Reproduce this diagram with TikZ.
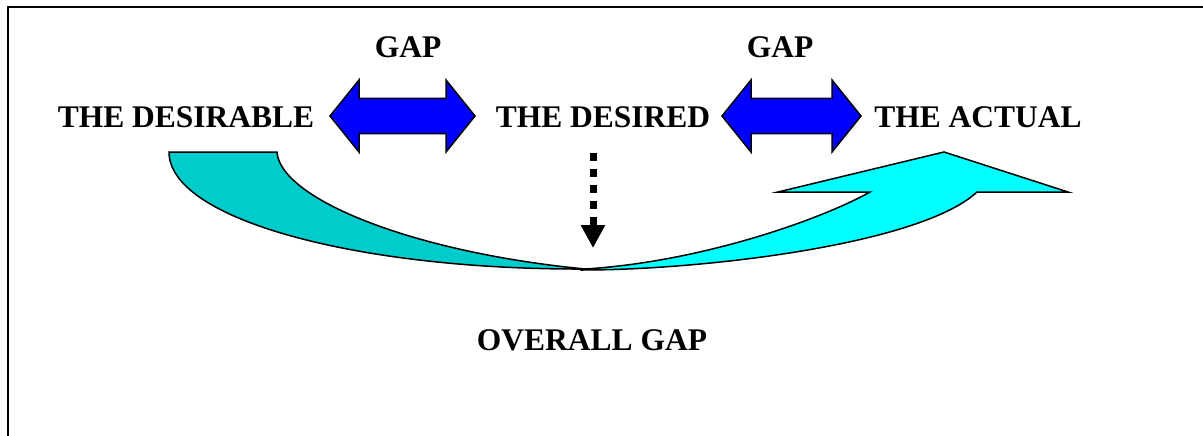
\documentclass[tikz,border=0pt]{standalone}
\usepackage{fontspec}
\setmainfont{Liberation Serif}
\usetikzlibrary{arrows.meta}
\definecolor{tealA}{RGB}{0,204,204}
\definecolor{cyanB}{RGB}{0,255,255}
\definecolor{blueA}{RGB}{0,0,255}
\begin{document}
\begin{tikzpicture}[x=1pt,y=-1pt,
  lbl/.style={anchor=base,inner sep=0pt,font=\fontsize{31.5}{36}\selectfont\bfseries},
  shapeline/.style={draw=black,line width=1.5pt,line join=miter},
  dblarrow/.style={shapeline,fill=blueA}]
\useasboundingbox (0,0) rectangle (1203,436);
% frame
\draw[line width=2pt] (7.5,436) -- (7.5,7.5) -- (1203,7.5);
% labels
\node[lbl] (gap1) at (408,58) {GAP};
\node[lbl] (gap2) at (780,58) {GAP};
\node[lbl] (desirable) at (186,128) {THE DESIRABLE};
\node[lbl] (desired) at (603,128) {THE DESIRED};
\node[lbl] (actual) at (978,128) {THE ACTUAL};
\node[lbl] (overall) at (592,350) {OVERALL GAP};
% double arrows
\draw[dblarrow] (330,116) -- (359,80) -- (359,98.5) -- (446,98.5) -- (446,80) -- (475,116)
  -- (446,152) -- (446,133.5) -- (359,133.5) -- (359,152) -- cycle;
\draw[dblarrow] (722,116) -- (751,80) -- (751,98.5) -- (832,98.5) -- (832,80) -- (861,116)
  -- (832,152) -- (832,133.5) -- (751,133.5) -- (751,152) -- cycle;
% curved arrow: left part
\draw[shapeline,fill=tealA] (169,152) -- (277,152)
  .. controls (280,198) and (410,252) .. (585,269)
  .. controls (360,270) and (169,220) .. (169,152) -- cycle;
% curved arrow: right part
\draw[shapeline,fill=cyanB] (583,270)
  .. controls (700,270) and (920,245) .. (977,192)
  -- (1068,192) -- (944,152) -- (778,192) -- (870,192)
  .. controls (820,220) and (700,262) .. (585,269) -- cycle;
% dotted arrow
\coordinate (dtop) at (593,153);
\coordinate (dbot) at (593,248);
\draw[line width=7pt,dash pattern=on 8pt off 8pt,-{Triangle[length=23pt,width=23pt]}] (dtop) -- (dbot);
\end{tikzpicture}
\end{document}
